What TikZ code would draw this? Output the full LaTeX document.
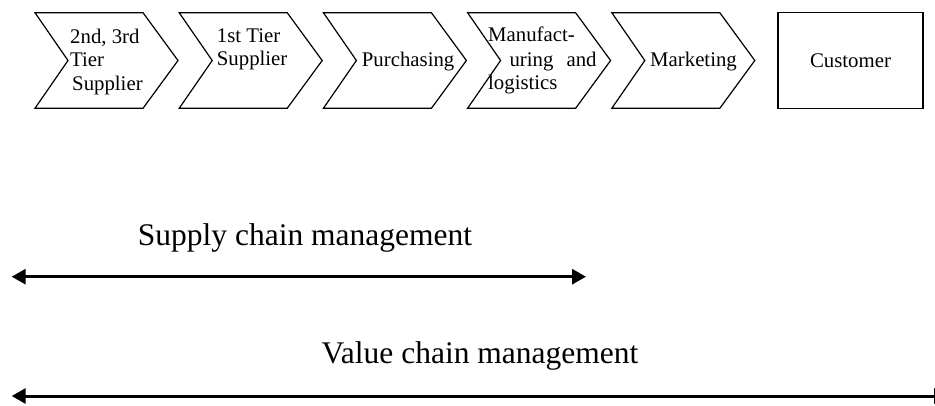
\documentclass[tikz,border=0pt]{standalone}
\usepackage{fontspec}
\setmainfont{Liberation Serif}
\usetikzlibrary{arrows.meta}

\tikzset{
  chev/.style={draw, line width=1.2pt, line join=miter},
  boxtext/.style={inner sep=0pt, anchor=base west, font=\fontsize{20.8}{24}\selectfont},
  custbox/.style={draw, line width=1.2pt, inner sep=0pt, font=\fontsize{20.8}{24}\selectfont},
  spanlabel/.style={inner sep=0pt, anchor=base, font=\fontsize{31.5}{36}\selectfont},
  span/.style={line width=3pt,
    {Triangle[length=14pt,width=15pt]}-{Triangle[length=14pt,width=15pt]}},
}

% one chevron, given the x of its upper left corner
\newcommand\chevronshape[1]{%
  \draw[chev] (#1,12.7) -- ++(108,0) -- ++(35,47.8) -- ++(-35,47.8)
    -- ++(-108,0) -- ++(33,-47.8) -- cycle;}

\begin{document}
\begin{tikzpicture}[x=1pt,y=-1pt]
  \clip (0,0) rectangle (935,405);

  % the chain of activities
  \chevronshape{35}
  \chevronshape{179.2}
  \chevronshape{323.4}
  \chevronshape{467.6}
  \chevronshape{611.8}

  \node[boxtext] (t1a) at (70,43.3) {2nd, 3rd};
  \node[boxtext] (t1b) at (70,66.7) {Tier};
  \node[boxtext] (t1c) at (72,90) {Supplier};

  \node[boxtext] (t2a) at (216.7,42) {1st Tier};
  \node[boxtext] (t2b) at (216.7,65.3) {Supplier};

  \node[boxtext] (t3) at (361.7,66.7) {Purchasing};

  \node[boxtext] (t4a) at (488,41) {Manufact-};
  \node[boxtext] (t4b) at (509.3,66.7) {uring\hspace{8pt} and};
  \node[boxtext] (t4c) at (488,89) {logistics};

  \node[boxtext] (t5) at (650,66.7) {Marketing};

  \node[custbox, minimum width=145pt, minimum height=95.6pt] (cust) at (850.5,60.5) {Customer};

  % management spans
  \node[spanlabel] (scm) at (305,245) {Supply chain management};
  \coordinate (sl) at (11.7,276.7);
  \coordinate (sr) at (586,276.7);
  \draw[span] (sl) -- (sr);

  \node[spanlabel] (vcm) at (480,363) {Value chain management};
  \coordinate (vl) at (11.7,396);
  \coordinate (vr) at (948,396);
  \draw[span] (vl) -- (vr);
\end{tikzpicture}
\end{document}
